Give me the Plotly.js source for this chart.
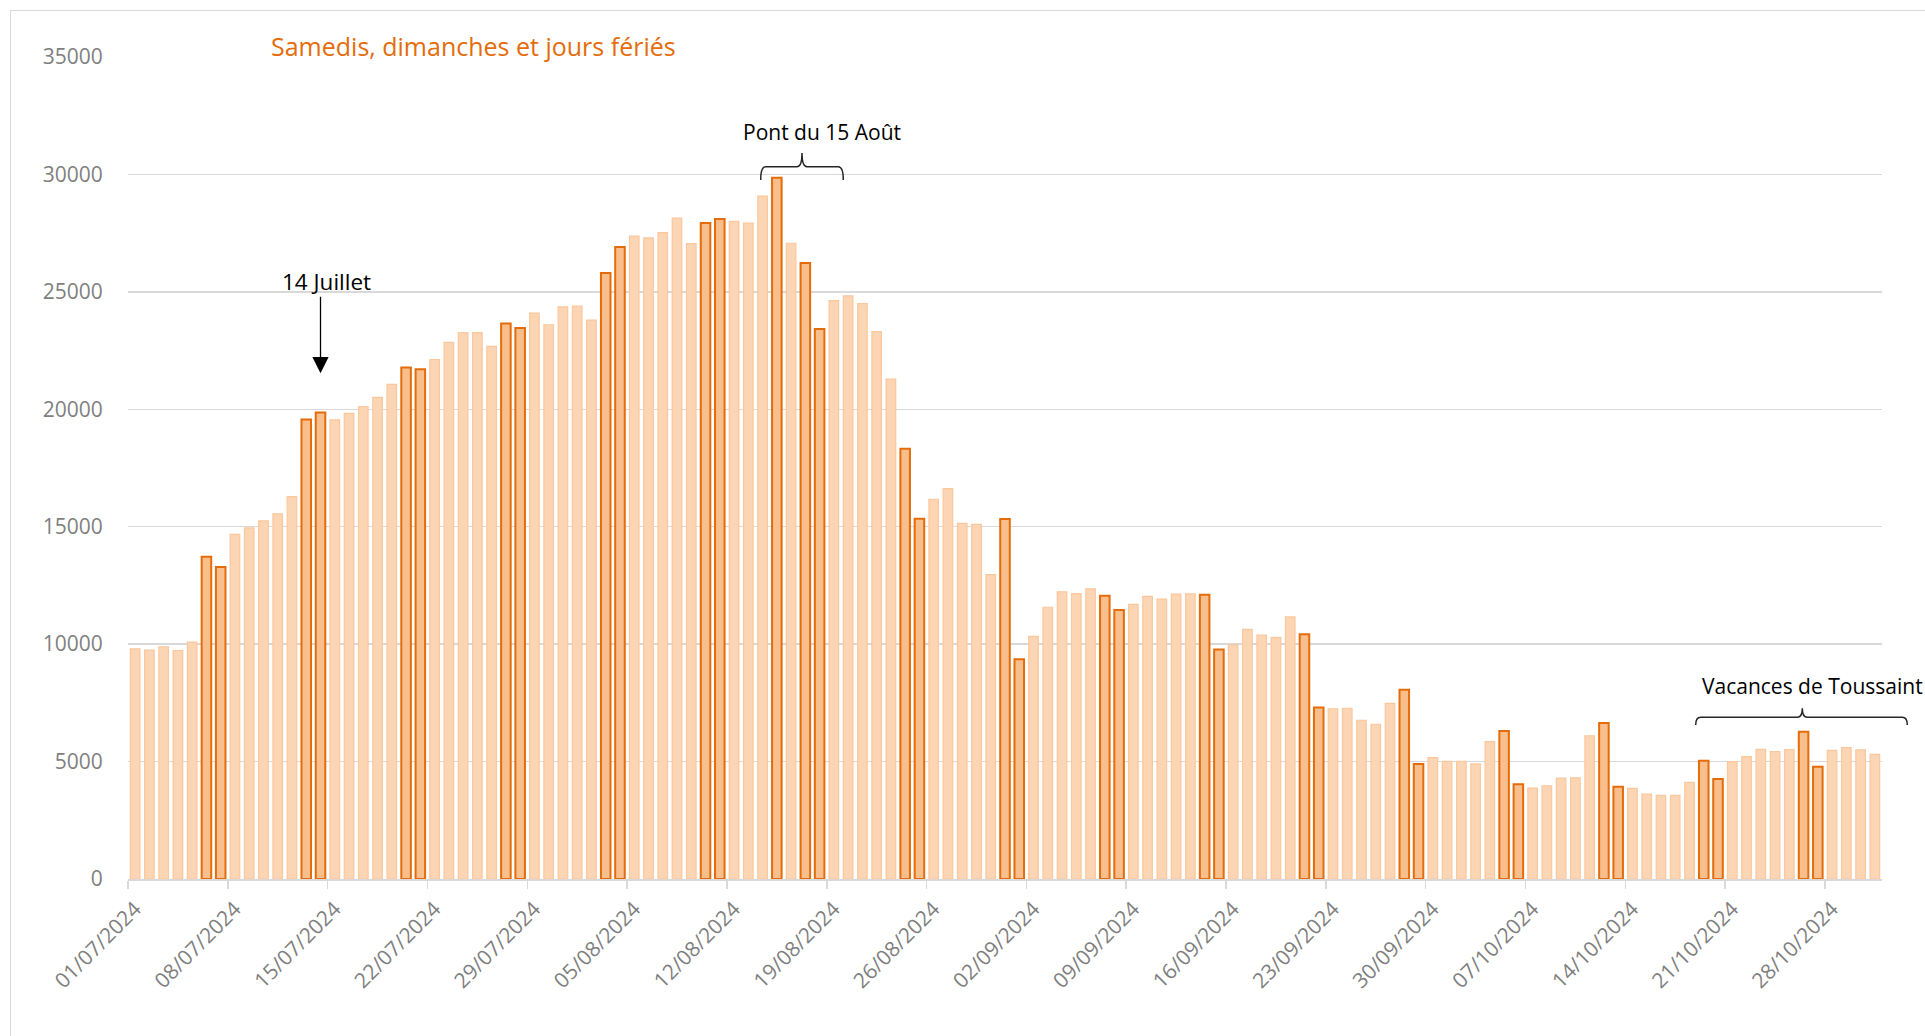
<!DOCTYPE html>
<html>
<head>
<meta charset="utf-8">
<script src="https://cdn.plot.ly/plotly-3.0.1.min.js"></script>
<style>
  html, body { margin: 0; padding: 0; background: #fff; overflow: hidden; }
  #cadre { position: absolute; left: 10px; top: 10px; width: 1930px; height: 1040px; border: 1.5px solid #d9d9d9; box-sizing: border-box; }
  #graph { position: absolute; left: 0; top: 0; width: 1925px; height: 1036px; }
</style>
</head>
<body>
<div id="cadre"></div>
<div id="graph"></div>
<script>
// 01/07/2024 -> 31/10/2024, une valeur par jour
const premierJour = '2024-07-01';
const nbJours = 123;
const joursFeries = ['15/08/2024'];

const valeurs = [
  9800, 9750, 9880, 9720, 10090, 13720, 13280, 14670, 14950, 15250,
  15550, 16280, 19570, 19860, 19550, 19830, 20110, 20510, 21060, 21780,
  21710, 22120, 22850, 23260, 23260, 22680, 23650, 23460, 24100, 23600,
  24360, 24390, 23800, 25800, 26910, 27370, 27300, 27520, 28140, 27050,
  27930, 28100, 28000, 27930, 29080, 29860, 27070, 26230, 23420, 24630,
  24830, 24500, 23310, 21280, 18320, 15340, 16170, 16620, 15140, 15100,
  12960, 15330, 9360, 10330, 11570, 12230, 12150, 12350, 12060, 11450,
  11690, 12030, 11920, 12130, 12140, 12100, 9770, 9970, 10630, 10380,
  10290, 11160, 10420, 7300, 7250, 7270, 6760, 6590, 7480, 8060,
  4900, 5170, 5010, 5010, 4900, 5850, 6300, 4030, 3870, 3970,
  4300, 4310, 6100, 6640, 3930, 3860, 3620, 3560, 3560, 4110,
  5040, 4260, 5000, 5210, 5520, 5420, 5510, 6270, 4780, 5480,
  5590, 5500, 5310
];

// libellés jj/mm/aaaa
const dates = [];
const estSpecial = [];
const d0 = new Date(premierJour + 'T00:00:00Z');
for (let i = 0; i < nbJours; i++) {
  const d = new Date(d0.getTime() + i * 86400000);
  const lib = String(d.getUTCDate()).padStart(2, '0') + '/' +
              String(d.getUTCMonth() + 1).padStart(2, '0') + '/' + d.getUTCFullYear();
  dates.push(lib);
  const j = d.getUTCDay();
  estSpecial.push(j === 0 || j === 6 || joursFeries.includes(lib));
}

// géométrie de la zone de tracé (pour les accolades)
const W = 1925, H = 1036;
const mg = { l: 128, r: 43, t: 57, b: 157 };
const px = x => (x - mg.l) / (W - mg.l - mg.r);
const py = y => (H - mg.b - y) / (H - mg.t - mg.b);

function accolade(x0, x1, xm, yH, yBout, ySommet) {
  const r = 5;
  return 'M ' + px(x0) + ',' + py(yBout) +
    ' Q ' + px(x0) + ',' + py(yH) + ' ' + px(x0 + r) + ',' + py(yH) +
    ' L ' + px(xm - r) + ',' + py(yH) +
    ' Q ' + px(xm) + ',' + py(yH) + ' ' + px(xm) + ',' + py(ySommet) +
    ' Q ' + px(xm) + ',' + py(yH) + ' ' + px(xm + r) + ',' + py(yH) +
    ' L ' + px(x1 - r) + ',' + py(yH) +
    ' Q ' + px(x1) + ',' + py(yH) + ' ' + px(x1) + ',' + py(yBout);
}

const police = 'Open Sans, Lato, sans-serif';
const gris = '#7f7f7f';

const trace = {
  type: 'bar',
  x: dates,
  y: valeurs,
  marker: {
    color: estSpecial.map(s => s ? '#F8BE8C' : '#FCD5B4'),
    line: {
      color: estSpecial.map(s => s ? '#E46C0A' : '#FBC79C'),
      width: estSpecial.map(s => s ? 2 : 1.2)
    }
  },
  hoverinfo: 'x+y',
  showlegend: false
};

const layout = {
  width: W,
  height: H,
  margin: mg,
  paper_bgcolor: 'rgba(0,0,0,0)',
  plot_bgcolor: 'rgba(0,0,0,0)',
  bargap: 0.33,
  font: { family: police, color: gris, size: 21 },
  xaxis: {
    type: 'category',
    tickmode: 'linear',
    tick0: 0,
    dtick: 7,
    tickson: 'boundaries',
    ticks: 'outside',
    ticklen: 8,
    tickwidth: 1.5,
    tickcolor: '#d9d9d9',
    tickangle: -45,
    ticklabelstandoff: 8,
    tickfont: { family: police, size: 21, color: gris },
    showgrid: false,
    showline: true,
    linecolor: '#d9d9d9',
    linewidth: 1.5,
    range: [-0.5, nbJours - 0.5]
  },
  yaxis: {
    range: [0, 35000],
    dtick: 5000,
    tickformat: 'd',
    showgrid: true,
    gridcolor: '#d9d9d9',
    gridwidth: 1.5,
    zeroline: false,
    showline: false,
    ticks: 'outside',
    ticklen: 20,
    tickcolor: 'rgba(0,0,0,0)',
    tickfont: { family: police, size: 21, color: gris }
  },
  shapes: [
    { type: 'path', xref: 'paper', yref: 'paper', path: accolade(760.7, 843.3, 802, 166.7, 180, 153), line: { color: '#262626', width: 1.5 } },
    { type: 'path', xref: 'paper', yref: 'paper', path: accolade(1695.7, 1907.3, 1802.3, 717.3, 725, 708.3), line: { color: '#262626', width: 1.5 } }
  ],
  annotations: [
    { xref: 'paper', yref: 'paper', x: px(269), y: py(46), xanchor: 'left', yanchor: 'middle', showarrow: false,
      text: 'Samedis, dimanches et jours fériés', font: { family: police, size: 25, color: '#E46C0A' } },
    { xref: 'x', yref: 'y', x: dates[13], y: 25450, xshift: 6, xanchor: 'center', yanchor: 'middle', showarrow: false,
      text: '14 Juillet', font: { family: police, size: 22.5, color: '#000' } },
    { xref: 'x', yref: 'y', x: dates[13], y: 21530, text: '', showarrow: true, ax: 0, ay: -78,
      arrowhead: 2, arrowsize: 2.5, arrowwidth: 1.3, arrowcolor: '#000' },
    { xref: 'paper', yref: 'paper', x: px(822), y: py(132), xanchor: 'center', yanchor: 'middle', showarrow: false,
      text: 'Pont du 15 Août', font: { family: police, size: 21, color: '#000' } },
    { xref: 'paper', yref: 'paper', x: px(1812), y: py(686), xanchor: 'center', yanchor: 'middle', showarrow: false,
      text: 'Vacances de Toussaint', font: { family: police, size: 21, color: '#000' } }
  ]
};

Plotly.newPlot('graph', [trace], layout, { staticPlot: true, displayModeBar: false });
</script>
</body>
</html>
